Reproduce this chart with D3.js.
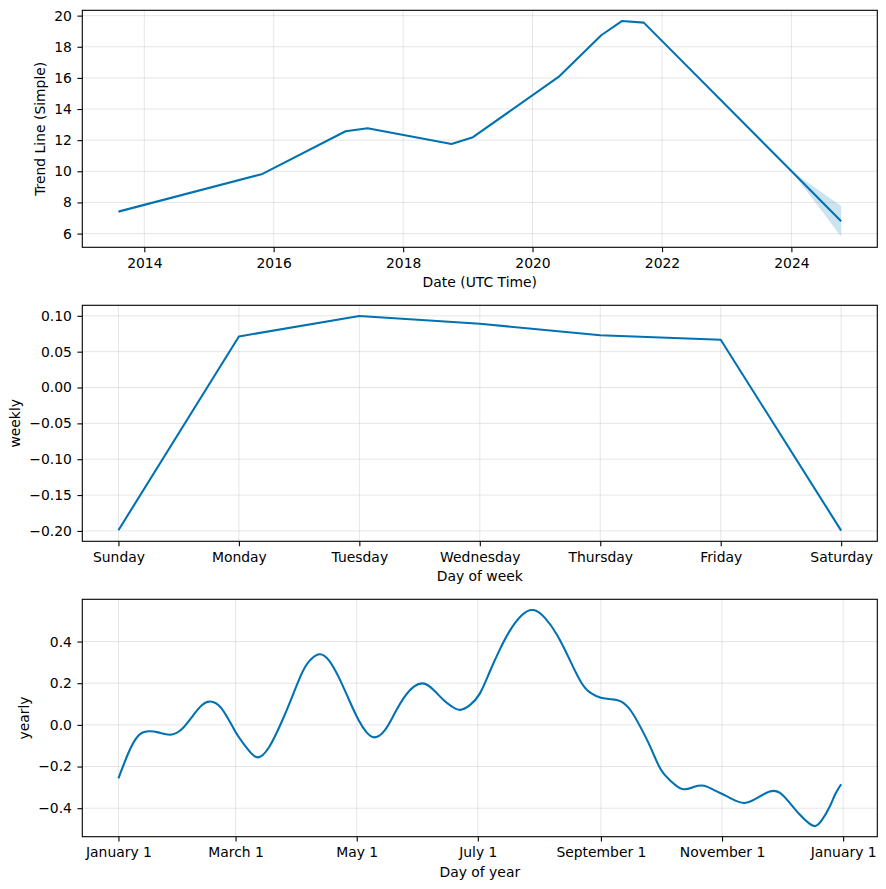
<!DOCTYPE html>
<html><head><meta charset="utf-8">
<script src="https://cdn.jsdelivr.net/npm/d3@7"></script>
<style>
body{margin:0;background:#fff}
svg{display:block;font-family:"DejaVu Sans",sans-serif;background:#fff}
</style>
</head><body>
<svg id="chart" width="886" height="889"></svg>
<script>
// ---------- data ----------
const trendDates  = ["2013-08-08","2015-10-30","2017-02-10","2017-06-14","2018-10-01","2019-01-30",
                     "2020-05-27","2021-01-23","2021-05-19","2021-09-20","2024-01-01","2024-10-08"];
const trendValues = [7.41, 9.83, 12.57, 12.76, 11.75, 12.19, 16.06, 18.74, 19.65, 19.55, 10.02, 6.79];
const bandDates   = ["2024-01-01","2024-10-08"];
const bandLower   = [10.02, 5.81];
const bandUpper   = [10.02, 7.77];
const trendTicks  = [6, 8, 10, 12, 14, 16, 18, 20];

const weekDays     = ["Sunday","Monday","Tuesday","Wednesday","Thursday","Friday","Saturday"];
const weeklyValues = [-0.199, 0.0712, 0.0997, 0.0889, 0.0730, 0.0666, -0.1995];
const weeklyTicks  = [-0.20, -0.15, -0.10, -0.05, 0.00, 0.05, 0.10];

const yearlyDays = [0,5,10,15,20,26,32,38,42,46,52,59,65,70,76,82,86,92,96,101,106,111,116,121,125,129,134,139,144,
  149,154,159,164,168,172,177,182,187,192,197,203,209,215,221,227,233,238,243,248,253,258,263,268,273,278,284,290,
  295,300,306,311,316,322,328,333,338,343,348,351,354,358,361,364];
const yearlyValues = [-0.257,-0.135,-0.052,-0.031,-0.036,-0.047,-0.02,0.05,0.094,0.112,0.078,-0.034,-0.115,-0.156,-0.105,
  0.01,0.10,0.24,0.305,0.339,0.31,0.228,0.123,0.022,-0.036,-0.06,-0.028,0.053,0.133,0.185,0.198,0.165,0.117,0.088,
  0.072,0.095,0.15,0.255,0.36,0.45,0.525,0.551,0.511,0.43,0.318,0.205,0.152,0.13,0.123,0.113,0.069,-0.012,-0.108,
  -0.212,-0.268,-0.308,-0.297,-0.292,-0.313,-0.341,-0.365,-0.374,-0.349,-0.32,-0.325,-0.373,-0.429,-0.474,-0.485,
  -0.461,-0.397,-0.333,-0.285];
const yearlyTicks = [-0.4, -0.2, 0.0, 0.2, 0.4];
const yearStart = "2017-01-01";

// ---------- layout ----------
const L = 82.3, R = 877.3;
const panels = [{top:10.3, bottom:247.3},{top:305.3, bottom:541.3},{top:599.3, bottom:836.7}];
const LINE = "#0072B2";
const FS = 13.9;
const TICK = 4.86;

const svg = d3.select("#chart");
const parse = d3.utcParse("%Y-%m-%d");

function pad(ext){ const a=+ext[0], b=+ext[1], d=(b-a)*0.05; return [a-d, b+d]; }

function drawFrame(p, x, y, xTicks, xFmt, yTicks, yFmt, xLabel, yLabel){
  const g = svg.append("g");
  const grid = g.append("g").attr("stroke","gray").attr("stroke-opacity",0.2).attr("stroke-width",1);
  xTicks.forEach(t=>grid.append("line").attr("x1",x(t)).attr("x2",x(t)).attr("y1",p.top).attr("y2",p.bottom));
  yTicks.forEach(t=>grid.append("line").attr("x1",L).attr("x2",R).attr("y1",y(t)).attr("y2",y(t)));
  const xa = g.append("g").attr("transform",`translate(0,${p.bottom})`)
    .call(d3.axisBottom(x).tickValues(xTicks).tickFormat(xFmt).tickSize(TICK).tickSizeOuter(0).tickPadding(6));
  const ya = g.append("g").attr("transform",`translate(${L},0)`)
    .call(d3.axisLeft(y).tickValues(yTicks).tickFormat(yFmt).tickSize(TICK).tickSizeOuter(0).tickPadding(5.5));
  [xa,ya].forEach(a=>{
    a.select(".domain").remove();
    a.attr("font-size",FS).attr("font-family","DejaVu Sans, sans-serif").attr("color","#000");
    a.selectAll("line").attr("stroke-width",1.1);
  });
  g.append("text").attr("x",(L+R)/2).attr("y",p.bottom+40).attr("text-anchor","middle")
    .attr("font-size",FS).attr("fill","#000").text(xLabel);
  let minX = Infinity;
  ya.selectAll("text").each(function(){ const b=this.getBBox(); minX=Math.min(minX,b.x); });
  const lx = L + minX - 5.6 - 4.0;
  g.append("text").attr("transform",`translate(${lx},${(p.top+p.bottom)/2}) rotate(-90)`)
    .attr("text-anchor","middle").attr("font-size",FS).attr("fill","#000").text(yLabel);
  return g;
}
function spines(p){
  svg.append("rect").attr("x",L).attr("y",p.top).attr("width",R-L).attr("height",p.bottom-p.top)
    .attr("fill","none").attr("stroke","#000").attr("stroke-width",1.1);
}

// ---------- panel 1 : trend ----------
{
  const p = panels[0];
  const td = trendDates.map(parse), bd = bandDates.map(parse);
  const x = d3.scaleUtc().domain(pad(d3.extent(td)).map(v=>new Date(v))).range([L,R]);
  const y = d3.scaleLinear().domain(pad(d3.extent(trendValues.concat(bandLower,bandUpper)))).range([p.bottom,p.top]);
  const xt = d3.utcYear.every(2).range(x.domain()[0], x.domain()[1]);
  drawFrame(p, x, y, xt, d3.utcFormat("%Y"), trendTicks, d3.format("d"), "Date (UTC Time)", "Trend Line (Simple)");
  const band = bd.map((d,i)=>({d, lo:bandLower[i], hi:bandUpper[i]}));
  svg.append("path").datum(band).attr("fill",LINE).attr("fill-opacity",0.2)
    .attr("d", d3.area().x(d=>x(d.d)).y0(d=>y(d.lo)).y1(d=>y(d.hi)));
  svg.append("path").datum(td.map((d,i)=>[d,trendValues[i]])).attr("fill","none").attr("stroke",LINE)
    .attr("stroke-width",2.08).attr("stroke-linejoin","round")
    .attr("d", d3.line().x(d=>x(d[0])).y(d=>y(d[1])));
  spines(p);
}

// ---------- panel 2 : weekly ----------
{
  const p = panels[1];
  const idx = weekDays.map((_,i)=>i);
  const x = d3.scaleLinear().domain(pad(d3.extent(idx))).range([L,R]);
  const y = d3.scaleLinear().domain(pad(d3.extent(weeklyValues))).range([p.bottom,p.top]);
  drawFrame(p, x, y, idx, i=>weekDays[i], weeklyTicks, d3.format(".2f"), "Day of week", "weekly");
  svg.append("path").datum(idx.map(i=>[i,weeklyValues[i]])).attr("fill","none").attr("stroke",LINE)
    .attr("stroke-width",2.08).attr("stroke-linejoin","round")
    .attr("d", d3.line().x(d=>x(d[0])).y(d=>y(d[1])));
  spines(p);
}

// ---------- panel 3 : yearly ----------
{
  const p = panels[2];
  const s = parse(yearStart);
  const yd = yearlyDays.map(d=>d3.utcDay.offset(s,d));
  const x = d3.scaleUtc().domain(pad(d3.extent(yd)).map(v=>new Date(v))).range([L,R]);
  const y = d3.scaleLinear().domain(pad(d3.extent(yearlyValues))).range([p.bottom,p.top]);
  const xt = d3.utcMonth.every(2).range(x.domain()[0], x.domain()[1]);
  drawFrame(p, x, y, xt, d3.utcFormat("%B %-d"), yearlyTicks, d3.format(".1f"), "Day of year", "yearly");
  svg.append("path").datum(yd.map((d,i)=>[d,yearlyValues[i]])).attr("fill","none").attr("stroke",LINE)
    .attr("stroke-width",2.08).attr("stroke-linejoin","round")
    .attr("d", d3.line().curve(d3.curveNatural).x(d=>x(d[0])).y(d=>y(d[1])));
  spines(p);
}
</script>
</body></html>
